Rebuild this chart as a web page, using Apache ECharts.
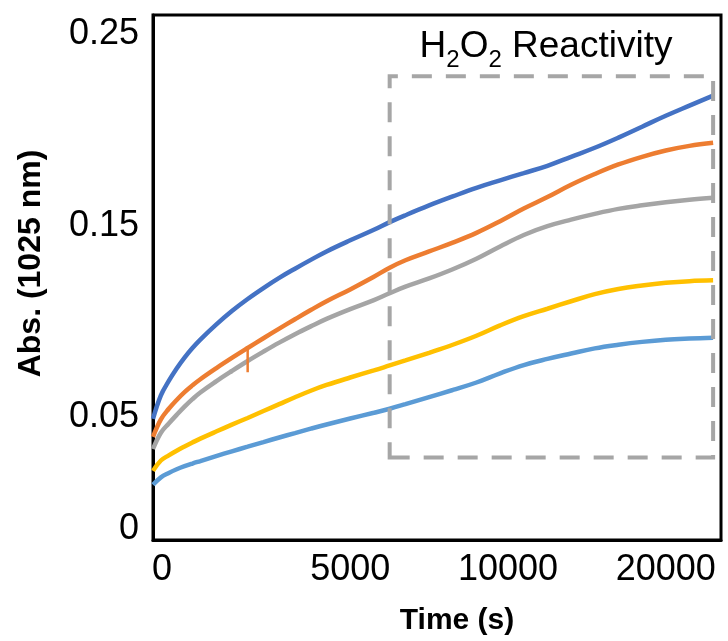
<!DOCTYPE html>
<html>
<head>
<meta charset="utf-8">
<script src="https://cdn.jsdelivr.net/npm/echarts@6/dist/echarts.min.js"></script>
<style>
  html, body { margin: 0; padding: 0; background: #fff; }
  #chart { width: 728px; height: 641px; }
</style>
</head>
<body>
<div id="chart"></div>
<script>
// time axis (s) - sampling is not uniform, so the axis is a category one
const CATEGORIES = [
  '0', '200', '400', '600', '800', '1000', '1200', '1400', '1600', '1800',
  '2000', '2200', '2400', '2600', '2800', '3000', '3200', '3400', '3600', '3800',
  '4000', '4200', '4400', '4600', '4800', '5000',
  '5250', '5500', '5750', '6000', '6250', '6500', '6750', '7000', '7250', '7500',
  '7750', '8000', '8250', '8500', '8750', '9000', '9250', '9500', '9750', '10000',
  '10500', '11000', '11500', '12000', '12500', '13000', '13500', '14000', '14500', '15000',
  '15500', '16000', '16500', '17000', '17500', '18000', '18500', '19000', '19500', '20000',
  '20500', '21000', '21500', '22000', '22500', '23000', '23500'
]
const X_TICKS = ['0', '5000', '10000', '20000']
const Y_TICKS = [0, 0.05, 0.15, 0.25]

// sample times where the curves were read
const SAMPLE_T = [
  '0', '200', '400', '600', '800', '1000', '1200', '1600', '2000', '2400',
  '2800', '3200', '3600', '4000', '4400', '5000', '5750', '6250', '6750', '7500',
  '8250', '9000', '9750', '11000', '12500', '14000', '15500', '17000', '18500', '20000',
  '21500', '23000'
]
const BLUE = [
  0.0492, 0.0615, 0.0690, 0.0755, 0.0812, 0.0862, 0.0906, 0.0984, 0.1055, 0.1118,
  0.1175, 0.1228, 0.1276, 0.1322, 0.1366, 0.1424, 0.1479, 0.1519, 0.1555, 0.1606,
  0.1653, 0.1698, 0.1737, 0.1775, 0.1813, 0.1860, 0.1907, 0.1960, 0.2017, 0.2074,
  0.2127, 0.2179
]
const ORANGE = [
  0.0398, 0.0490, 0.0545, 0.0591, 0.0632, 0.0667, 0.0699, 0.0756, 0.0810, 0.0862,
  0.0913, 0.0963, 0.1012, 0.1060, 0.1106, 0.1168, 0.1234, 0.1281, 0.1320, 0.1366,
  0.1412, 0.1463, 0.1524, 0.1590, 0.1650, 0.1714, 0.1770, 0.1820, 0.1860, 0.1893,
  0.1917, 0.1933
]
// short recording spike on the orange trace
const ORANGE_SPIKE_T = '2400'
const ORANGE_SPIKE = [0.0872, 0.0735]
const GRAY = [
  0.0335, 0.0420, 0.0468, 0.0513, 0.0556, 0.0595, 0.0630, 0.0688, 0.0742, 0.0794,
  0.0843, 0.0890, 0.0934, 0.0975, 0.1014, 0.1065, 0.1112, 0.1148, 0.1182, 0.1225,
  0.1273, 0.1328, 0.1392, 0.1452, 0.1498, 0.1532, 0.1562, 0.1588, 0.1607, 0.1623,
  0.1636, 0.1646
]
const YELLOW = [
  0.0221, 0.0275, 0.0302, 0.0326, 0.0348, 0.0369, 0.0389, 0.0426, 0.0462, 0.0497,
  0.0533, 0.0569, 0.0605, 0.0639, 0.0669, 0.0708, 0.0745, 0.0771, 0.0797, 0.0837,
  0.0879, 0.0926, 0.0980, 0.1028, 0.1067, 0.1106, 0.1143, 0.1170, 0.1188, 0.1202,
  0.1211, 0.1215
]
const LIGHTBLUE = [
  0.0148, 0.0187, 0.0210, 0.0229, 0.0245, 0.0259, 0.0272, 0.0298, 0.0323, 0.0347,
  0.0371, 0.0395, 0.0418, 0.0441, 0.0463, 0.0494, 0.0524, 0.0545, 0.0569, 0.0606,
  0.0643, 0.0682, 0.0730, 0.0773, 0.0805, 0.0833, 0.0860, 0.0879, 0.0894, 0.0905,
  0.0911, 0.0915
]

// dashed "reactivity" window, in data units
const BOX_T = ['6250', '23000']
const BOX_ABS = [0.029, 0.228]

const FONT = 'Liberation Sans, Arial, sans-serif'

let chart = echarts.init(document.getElementById('chart'))

function line (name, color, values) {
  return {
    name: name,
    type: 'line',
    data: SAMPLE_T.map((t, i) => [t, values[i]]),
    smooth: 0.4,
    showSymbol: false,
    lineStyle: { color: color, width: 4.5 },
    itemStyle: { color: color }
  }
}

let series = [
  line('1', '#5B9BD5', LIGHTBLUE),
  line('2', '#FFC000', YELLOW),
  line('3', '#A5A5A5', GRAY),
  line('4', '#ED7D31', ORANGE),
  line('5', '#4472C4', BLUE),
  {
    name: '4 spike',
    type: 'line',
    data: ORANGE_SPIKE.map(v => [ORANGE_SPIKE_T, v]),
    showSymbol: false,
    lineStyle: { color: '#ED7D31', width: 2.5 }
  }
]
// the dashed box sits on top of the curves
series[4].markArea = {
  silent: true,
  z: 10,
  label: { show: false },
  itemStyle: {
    color: 'rgba(0,0,0,0)',
    borderColor: '#A6A6A6',
    borderWidth: 4,
    borderType: [20, 14]
  },
  data: [[
    { xAxis: BOX_T[0], yAxis: BOX_ABS[0] },
    { xAxis: BOX_T[1], yAxis: BOX_ABS[1] }
  ]]
}

chart.setOption({
  animation: false,
  textStyle: { fontFamily: FONT },
  grid: {
    left: 153,
    top: 15,
    width: 568,
    height: 525,
    show: true,
    borderColor: '#000',
    borderWidth: 3
  },
  graphic: [{
    type: 'text',
    x: 546,
    y: 47,
    style: {
      text: '{t|H}{s|2}{t|O}{s|2}{t| Reactivity}',
      align: 'center',
      verticalAlign: 'middle',
      rich: {
        t: { fontSize: 37, lineHeight: 50, fontFamily: FONT, fill: '#000' },
        s: { fontSize: 24, lineHeight: 22, verticalAlign: 'bottom', fontFamily: FONT, fill: '#000' }
      }
    }
  }],
  xAxis: {
    type: 'category',
    data: CATEGORIES,
    boundaryGap: false,
    axisLine: { onZero: false, lineStyle: { color: '#000', width: 3 } },
    axisTick: { show: false },
    splitLine: { show: false },
    axisLabel: {
      interval: (idx, value) => X_TICKS.includes(value),
      formatter: v => v === '0' ? '{z|0}' : v,
      fontSize: 36,
      color: '#000',
      margin: 12,
      rich: { z: { fontSize: 36, color: '#000', fontFamily: FONT, padding: [0, 0, 0, 18] } }
    },
    name: 'Time (s)',
    nameLocation: 'middle',
    nameGap: 66,
    nameTextStyle: { fontSize: 30, fontWeight: 'bold', color: '#000', padding: [0, 0, 0, 40] }
  },
  yAxis: {
    type: 'value',
    min: -0.014,
    max: 0.26,
    axisLine: { show: true, lineStyle: { color: '#000', width: 3 } },
    axisTick: { show: false },
    splitLine: { show: false },
    axisLabel: {
      customValues: Y_TICKS,
      formatter: v => v === 0 ? '{z|0}' : String(v),
      fontSize: 36,
      color: '#000',
      margin: 14,
      rich: { z: { fontSize: 36, color: '#000', fontFamily: FONT, padding: [32, 0, 0, 0] } }
    },
    name: 'Abs. (1025 nm)',
    nameLocation: 'middle',
    nameGap: 106,
    nameTextStyle: { fontSize: 32, fontWeight: 'bold', color: '#000', padding: [0, 0, 0, 28] }
  },
  series: series
})
</script>
</body>
</html>
